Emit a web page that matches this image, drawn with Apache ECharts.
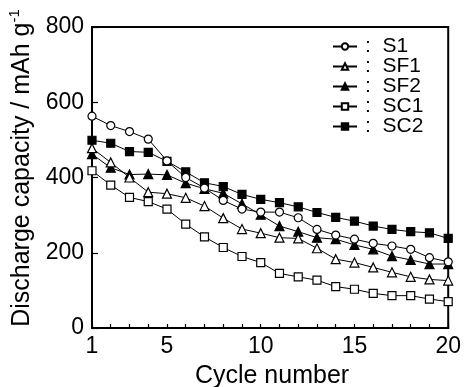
<!DOCTYPE html>
<html>
<head>
<meta charset="utf-8">
<script src="https://cdn.jsdelivr.net/npm/echarts@6/dist/echarts.min.js"></script>
<style>html,body{margin:0;padding:0;background:#fff}#c{width:464px;height:387px}</style>
</head>
<body>
<div id="c"></div>
<script>
const cycles = [1,2,3,4,5,6,7,8,9,10,11,12,13,14,15,16,17,18,19,20];
const S1  = [563,538,522,502,444,400,372,339,316,308,308,293,262,247,236,225,218,209,187,176];
const SF1 = [478,440,400,361,357,346,324,292,263,252,240,238,212,183,174,161,148,136,129,126];
const SF2 = [462,426,408,409,407,385,370,358,330,301,271,256,240,236,221,209,191,181,170,170];
const SC1 = [418,380,347,336,316,276,242,214,190,174,145,136,127,110,103,92,86,86,77,70];
const SC2 = [499,491,469,467,443,415,386,376,355,342,333,322,307,294,284,271,262,256,253,238];
const xTickLabels = [1,5,10,15,20];

const FONT = '"Liberation Sans", Arial, sans-serif';
const chart = echarts.init(document.getElementById('c'), null, {renderer:'canvas'});

function mk(name, data, symbol, filled) {
  return {
    name: name, type: 'line', data: data.map((v,i)=>[cycles[i], v]),
    symbol: symbol, symbolSize: symbol === 'triangle' ? 9 : 8, showSymbol: true,
    lineStyle: {color:'#000', width:1},
    itemStyle: {color: filled ? '#000' : '#fff', borderColor:'#000', borderWidth:1.2},
    emphasis: {disabled:true}, animation:false, z: filled ? 3 : 4
  };
}

chart.setOption({
  animation: false,
  grid: {left:92, right:12, top:27, bottom:59, show:true, borderColor:'#000', borderWidth:2, backgroundColor:'transparent'},
  xAxis: {
    type:'value', min:1, max:20, interval:1,
    axisLine:{show:true, lineStyle:{color:'#000', width:2}},
    axisTick:{show:true, inside:true, length:4, lineStyle:{color:'#000', width:1.2}},
    splitLine:{show:false},
    axisLabel:{color:'#000', fontFamily:FONT, fontSize:23, margin:7,
      customValues: xTickLabels,
      formatter: v => xTickLabels.indexOf(v) >= 0 ? String(v) : ''}
  },
  yAxis: {
    type:'value', min:0, max:800, interval:200,
    axisLine:{show:true, lineStyle:{color:'#000', width:2}},
    axisTick:{show:true, inside:true, length:6, lineStyle:{color:'#000', width:1.2}},
    splitLine:{show:false},
    axisLabel:{color:'#000', fontFamily:FONT, fontSize:23, margin:8}
  },
  legend: {
    orient:'vertical', left:327, top:31, itemWidth:24, itemHeight:8, itemGap:-1,
    formatter: n => ':  ' + n,
    textStyle:{color:'#000', fontFamily:FONT, fontSize:21, lineHeight:17, padding:[0,0,0,3]},
    data:['S1','SF1','SF2','SC1','SC2']
  },
  graphic: [
    {type:'text', x:22, y:168, rotation:Math.PI/2,
     style:{text:'{a|Discharge capacity / mAh g}{s|-1}', align:'center', verticalAlign:'middle',
       rich:{a:{fontFamily:FONT, fontSize:25, fill:'#000', lineHeight:30},
             s:{fontFamily:FONT, fontSize:15, fill:'#000', verticalAlign:'top', lineHeight:30, padding:[0,0,12,0]}}}},
    {type:'text', x:272, y:376,
     style:{text:'Cycle number', align:'center', verticalAlign:'middle', fontFamily:FONT, fontSize:25, fill:'#000'}}
  ],
  series: [
    mk('S1', S1, 'circle', false),
    mk('SF1', SF1, 'triangle', false),
    mk('SF2', SF2, 'triangle', true),
    mk('SC1', SC1, 'rect', false),
    mk('SC2', SC2, 'rect', true)
  ]
});
</script>
</body>
</html>
